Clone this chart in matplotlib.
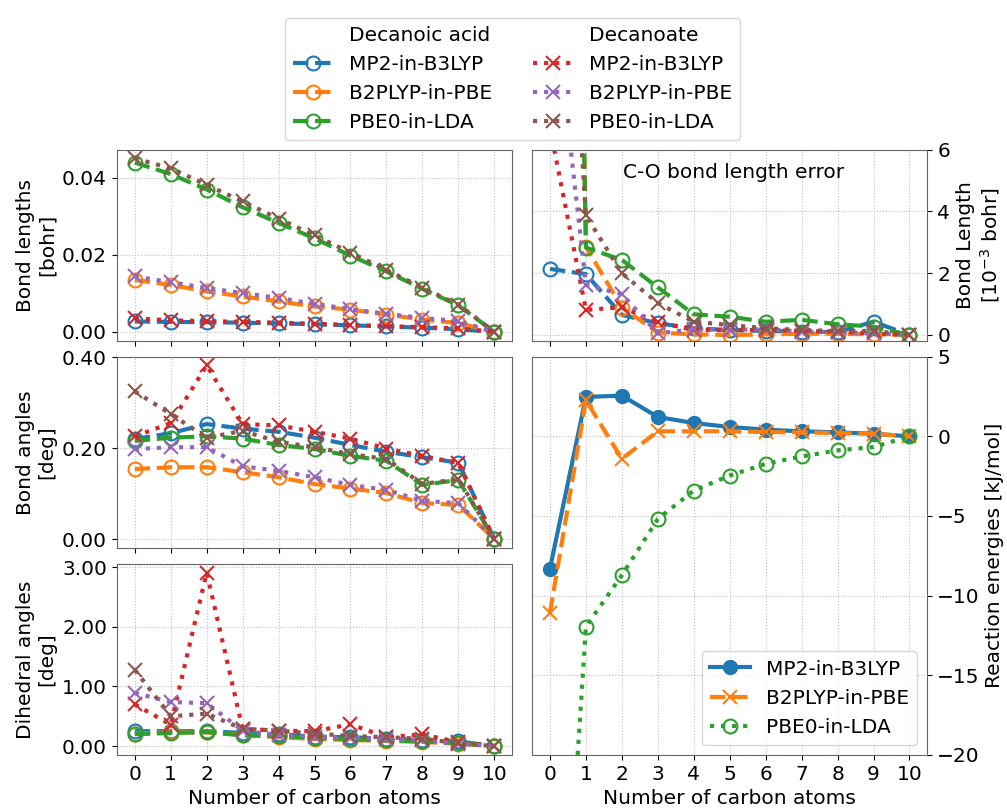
import numpy as np
import matplotlib
matplotlib.use("Agg")
import matplotlib.pyplot as plt
from matplotlib.ticker import FormatStrFormatter

plt.rcParams['font.size'] = 14.5

n_carbon = list(range(11))
methods = ["MP2-in-B3LYP", "B2PLYP-in-PBE", "PBE0-in-LDA"]

# bond length errors [bohr]
bl_acid = [
    [0.0027, 0.0026, 0.0025, 0.0024, 0.0022, 0.0020, 0.0017, 0.0014, 0.0011, 0.0007, 0.0],
    [0.0135, 0.0122, 0.0105, 0.0092, 0.0079, 0.0066, 0.0058, 0.0045, 0.0032, 0.0023, 0.0],
    [0.0440, 0.0410, 0.0370, 0.0324, 0.0283, 0.0243, 0.0198, 0.0157, 0.0112, 0.0069, 0.0],
]
bl_anion = [
    [0.0035, 0.0030, 0.0028, 0.0026, 0.0024, 0.0021, 0.0018, 0.0015, 0.0012, 0.0009, 0.0],
    [0.0144, 0.0129, 0.0114, 0.0101, 0.0088, 0.0073, 0.0059, 0.0047, 0.0036, 0.0028, 0.0],
    [0.0451, 0.0425, 0.0382, 0.0339, 0.0294, 0.0251, 0.0206, 0.0161, 0.0115, 0.0071, 0.0],
]
# bond angle errors [deg]
ba_acid = [
    [0.220, 0.233, 0.253, 0.243, 0.236, 0.223, 0.207, 0.192, 0.180, 0.168, 0.0],
    [0.154, 0.158, 0.158, 0.147, 0.136, 0.121, 0.111, 0.101, 0.079, 0.075, 0.0],
    [0.216, 0.223, 0.226, 0.221, 0.207, 0.198, 0.183, 0.172, 0.119, 0.130, 0.0],
]
ba_anion = [
    [0.226, 0.255, 0.382, 0.253, 0.250, 0.236, 0.221, 0.199, 0.183, 0.167, 0.0],
    [0.198, 0.202, 0.202, 0.160, 0.150, 0.136, 0.119, 0.108, 0.084, 0.079, 0.0],
    [0.325, 0.275, 0.223, 0.238, 0.214, 0.202, 0.187, 0.176, 0.121, 0.132, 0.0],
]
# dihedral angle errors [deg]
da_acid = [
    [0.25, 0.25, 0.25, 0.22, 0.20, 0.16, 0.15, 0.12, 0.105, 0.08, 0.0],
    [0.21, 0.23, 0.23, 0.19, 0.15, 0.12, 0.10, 0.09, 0.07, 0.04, 0.0],
    [0.20, 0.22, 0.235, 0.18, 0.17, 0.14, 0.12, 0.095, 0.08, 0.05, 0.0],
]
da_anion = [
    [0.70, 0.36, 2.91, 0.29, 0.26, 0.25, 0.365, 0.15, 0.196, 0.067, 0.0],
    [0.89, 0.74, 0.72, 0.26, 0.18, 0.16, 0.14, 0.12, 0.095, 0.04, 0.0],
    [1.28, 0.50, 0.544, 0.29, 0.26, 0.21, 0.17, 0.15, 0.123, 0.05, 0.0],
]
# C-O bond length error [1e-3 bohr]
co_acid = [
    [2.14, 1.97, 0.65, 0.38, 0.22, 0.16, 0.13, 0.11, 0.09, 0.43, 0.0],
    [66.0, 2.86, 0.89, 0.08, 0.02, 0.0, 0.02, 0.04, 0.04, 0.02, 0.0],
    [66.0, 2.83, 2.43, 1.54, 0.67, 0.59, 0.43, 0.49, 0.35, 0.27, 0.0],
]
co_anion = [
    [6.7, 0.81, 0.90, 0.41, 0.16, 0.16, 0.16, 0.13, 0.11, 0.05, 0.0],
    [12.0, 1.62, 1.32, 0.05, 0.19, 0.16, 0.19, 0.11, 0.09, 0.05, 0.0],
    [21.6, 3.87, 2.00, 1.03, 0.43, 0.32, 0.22, 0.16, 0.13, 0.13, 0.0],
]
# reaction energies [kJ/mol]
re_mp2 = [-8.3, 2.48, 2.56, 1.22, 0.84, 0.59, 0.42, 0.32, 0.25, 0.17, 0.0]
re_b2plyp = [-11.07, 2.27, -1.41, 0.32, 0.32, 0.32, 0.27, 0.25, 0.21, 0.17, 0.0]
re_pbe0 = [-47.0, -11.95, -8.72, -5.19, -3.40, -2.46, -1.72, -1.26, -0.88, -0.67, 0.0]

acid_colors = ['C0', 'C1', 'C2']
anion_colors = ['C3', 'C4', 'C5']

fig = plt.figure(figsize=(10.07, 8.09), dpi=100)
gs = fig.add_gridspec(3, 2, left=0.116, right=0.921, top=0.815, bottom=0.067,
                      hspace=0.085, wspace=0.05)
ax_bl = fig.add_subplot(gs[0, 0])
ax_ba = fig.add_subplot(gs[1, 0], sharex=ax_bl)
ax_da = fig.add_subplot(gs[2, 0], sharex=ax_bl)
ax_co = fig.add_subplot(gs[0, 1])
ax_re = fig.add_subplot(gs[1:, 1])

def plot_pair(ax, acid, anion):
    handles = []
    for vals, c in zip(acid, acid_colors):
        h, = ax.plot(n_carbon, vals, '--o', color=c, lw=3, ms=10, mfc='none', mew=1.5)
        handles.append(h)
    for vals, c in zip(anion, anion_colors):
        h, = ax.plot(n_carbon, vals, ':x', color=c, lw=3, ms=10, mew=1.5)
        handles.append(h)
    return handles

handles = plot_pair(ax_bl, bl_acid, bl_anion)
plot_pair(ax_ba, ba_acid, ba_anion)
plot_pair(ax_da, da_acid, da_anion)
plot_pair(ax_co, co_acid, co_anion)

ax_bl.set_ylabel("Bond lengths\n[bohr]")
ax_ba.set_ylabel("Bond angles\n[deg]")
ax_da.set_ylabel("Dihedral angles\n[deg]")
ax_ba.set_yticks([0.0, 0.2, 0.4])
ax_da.set_yticks([0, 1, 2, 3])
for ax in (ax_bl, ax_ba, ax_da):
    ax.yaxis.set_major_formatter(FormatStrFormatter('%.2f'))
ax_bl.set_yticks([0.0, 0.02, 0.04])
ax_da.set_xlabel("Number of carbon atoms")

ax_co.set_ylim(-0.18, 6)
ax_co.set_yticks([0, 2, 4, 6])
ax_co.set_xlim(-0.5, 10.5)
ax_co.yaxis.tick_right()
ax_co.yaxis.set_label_position("right")
ax_co.set_ylabel("Bond Length\n[$10^{-3}$ bohr]")
ax_co.text(0.51, 0.88, "C-O bond length error", transform=ax_co.transAxes,
           ha='center', va='center')

ax_re.plot(n_carbon, re_mp2, '-o', color='C0', lw=3, ms=10, label=methods[0])
ax_re.plot(n_carbon, re_b2plyp, '--x', color='C1', lw=3, ms=10, mew=1.5, label=methods[1])
ax_re.plot(n_carbon, re_pbe0, ':o', color='C2', lw=3, ms=10, mfc='none', mew=1.5, label=methods[2])
ax_re.set_ylim(-20, 5)
ax_re.set_xlim(-0.5, 10.5)
ax_re.yaxis.tick_right()
ax_re.yaxis.set_label_position("right")
ax_re.set_ylabel("Reaction energies [kJ/mol]")
ax_re.set_xlabel("Number of carbon atoms")
ax_re.legend(loc='lower right')

for ax in (ax_bl, ax_ba, ax_da, ax_co, ax_re):
    ax.set_xticks(n_carbon)
    ax.grid(ls=':', color='0.75')
    for s in ax.spines.values():
        s.set_color('0.4')
for ax in (ax_bl, ax_ba, ax_co):
    ax.tick_params(labelbottom=False)
ax_bl.set_xlim(-0.5, 10.5)

blank, = ax_bl.plot([], [], ' ')
leg_handles = [blank] + handles[:3] + [blank] + handles[3:]
leg_labels = ["Decanoic acid"] + methods + ["Decanoate"] + methods
fig.legend(leg_handles, leg_labels, ncol=2, loc='upper center',
           bbox_to_anchor=(0.509, 0.99))

fig.savefig("out.png", dpi=100)
